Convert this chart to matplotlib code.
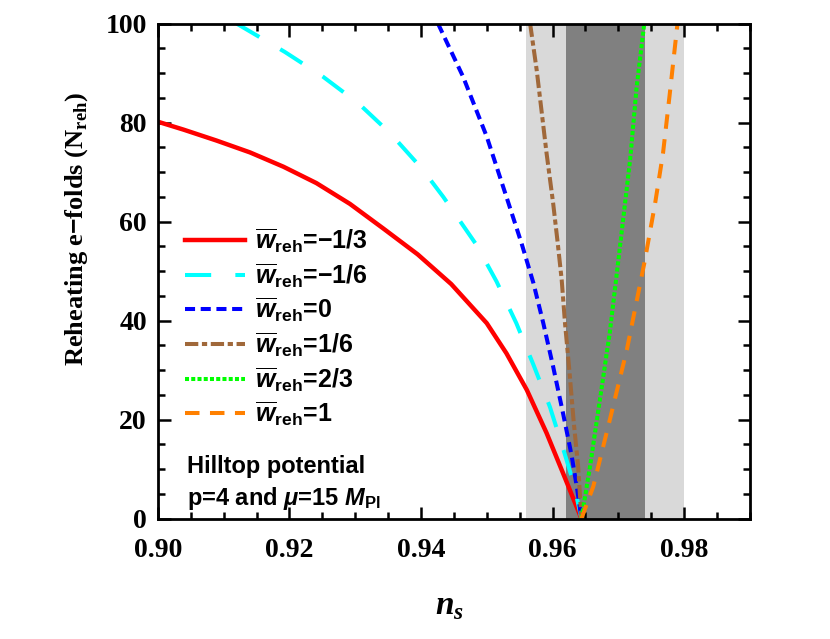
import matplotlib
matplotlib.use('Agg')
import matplotlib.pyplot as plt
from matplotlib.ticker import MultipleLocator, FormatStrFormatter

plt.rcParams.update({
    'mathtext.fontset': 'custom',
    'mathtext.rm': 'Liberation Sans:bold',
    'mathtext.it': 'Liberation Sans:italic:bold',
    'mathtext.bf': 'Liberation Serif:italic:bold',
    'mathtext.sf': 'Liberation Serif:bold',
})

# ---- data ----
red_ns = [0.9000, 0.9039, 0.9089, 0.9140, 0.9191, 0.9241, 0.9292, 0.9343, 0.9395, 0.9446,
          0.9500, 0.9530, 0.9561, 0.9591, 0.9616, 0.9644]
red_N = [80.2, 78.6, 76.4, 74.0, 71.1, 67.8, 63.6, 58.6, 53.4, 47.4,
         39.5, 33.4, 26.0, 17.3, 9.2, 0.0]

cyan_ns = [0.9120, 0.9193, 0.9251, 0.9305, 0.9353, 0.9401, 0.9434, 0.9485, 0.9515, 0.9545,
           0.9571, 0.9596, 0.9616, 0.9632, 0.9644]
cyan_N = [100.0, 94.3, 89.3, 83.9, 77.9, 70.8, 65.0, 55.2, 47.9, 39.5,
          31.1, 22.6, 14.2, 7.2, 0.0]

blue_ns = [0.9426, 0.9464, 0.9500, 0.9530, 0.9553, 0.9571, 0.9586, 0.9601, 0.9616, 0.9629, 0.9637, 0.9644]
blue_N = [100.0, 89.3, 77.2, 65.0, 55.6, 47.6, 39.5, 30.7, 21.3, 12.8, 6.4, 0.0]

brown_ns = [0.9566, 0.9576, 0.9591, 0.9601, 0.9608, 0.9614, 0.9619, 0.9626, 0.9632, 0.9639, 0.9644]
brown_N = [100.0, 90.6, 73.8, 63.7, 55.6, 48.2, 39.5, 29.4, 19.9, 10.5, 0.0]

green_ns = [0.9644, 0.9657, 0.9672, 0.9687, 0.9702, 0.9718, 0.9728, 0.97395]
green_N = [0.0, 10.5, 24.0, 37.5, 54.3, 72.5, 87.3, 100.0]

orange_ns = [0.9644, 0.9662, 0.9687, 0.9713, 0.9740, 0.9756, 0.9768, 0.9778, 0.9790]
orange_N = [0.0, 6.5, 19.9, 34.1, 51.9, 63.7, 73.8, 85.5, 100.0]

band_1sigma = (0.962, 0.974)
band_2sigma = (0.956, 0.980)

labels = [r'$\overline{w}_{\rm reh}$=$-$1/3', r'$\overline{w}_{\rm reh}$=$-$1/6',
          r'$\overline{w}_{\rm reh}$=0', r'$\overline{w}_{\rm reh}$=1/6',
          r'$\overline{w}_{\rm reh}$=2/3', r'$\overline{w}_{\rm reh}$=1']

fig = plt.figure(figsize=(8.30, 6.39), dpi=100)
ax = fig.add_axes([0.1902, 0.1883, 0.7132, 0.7746])

ax.axvspan(*band_2sigma, color='#d9d9d9', lw=0, zorder=0)
ax.axvspan(*band_1sigma, color='#808080', lw=0, zorder=0)

lw = 2.9
ax.plot(red_ns, red_N, color='#ff0000', lw=3.2, ls='-', label=labels[0], zorder=3)
ax.plot(cyan_ns, cyan_N, color='#00ffff', lw=lw, ls=(0, (6.5, 6.0)), label=labels[1], zorder=3)
ax.plot(blue_ns, blue_N, color='#0000ff', lw=lw, ls=(0, (2.5, 1.4)), label=labels[2], zorder=3)
ax.plot(brown_ns, brown_N, color='#a0683a', lw=lw, ls=(0, (3.3, 0.9, 1.3, 0.9)), label=labels[3], zorder=3)
ax.plot(green_ns, green_N, color='#00ff00', lw=lw, ls=(0, (1.0, 0.55)), label=labels[4], zorder=3)
ax.plot(orange_ns, orange_N, color='#ff8000', lw=lw, ls=(0, (3.6, 2.6)), label=labels[5], zorder=3)

ax.set_xlim(0.90, 0.99)
ax.set_ylim(0, 100)
ax.xaxis.set_major_locator(MultipleLocator(0.02))
ax.xaxis.set_minor_locator(MultipleLocator(0.005))
ax.yaxis.set_major_locator(MultipleLocator(20))
ax.yaxis.set_minor_locator(MultipleLocator(5))
ax.xaxis.set_major_formatter(FormatStrFormatter('%.2f'))

for s in ax.spines.values():
    s.set_linewidth(2.0)
    s.set_zorder(5)
ax.tick_params(which='both', direction='in', top=True, right=True, width=1.8)
ax.tick_params(which='major', length=9)
ax.tick_params(which='minor', length=5)
ax.tick_params(axis='x', which='major', pad=14)
ax.tick_params(axis='y', which='major', pad=8)
for t in ax.get_xticklabels() + ax.get_yticklabels():
    t.set_fontfamily('Liberation Serif')
    t.set_fontweight('bold')
    t.set_fontsize(20)

ax.set_ylabel(r'Reheating e$-$folds ($\mathsf{N}_{\mathsf{reh}}$)', family='Liberation Serif',
              weight='bold', fontsize=19)
ax.yaxis.set_label_coords(-0.115, 0.585)
ax.set_xlabel(r'$\mathbf{n}_{\mathbf{s}}$', fontsize=24)
ax.xaxis.set_label_coords(0.4935, -0.143)

leg = ax.legend(loc='upper left', bbox_to_anchor=(0.046, 0.59), frameon=False,
                prop={'family': 'Liberation Sans', 'weight': 'bold', 'size': 18},
                handlelength=2.4, handletextpad=0.4, labelspacing=0.25,
                borderpad=0, borderaxespad=0)

ax.text(0.049, 0.092, 'Hilltop potential', transform=ax.transAxes, family='Liberation Sans',
        weight='bold', fontsize=17, va='baseline')
ax.text(0.049, 0.028, r'p=4 and $\mu$=15 $M_{\rm Pl}$', transform=ax.transAxes,
        family='Liberation Sans', weight='bold', fontsize=17, va='baseline')

fig.savefig('out.png', dpi=100)
